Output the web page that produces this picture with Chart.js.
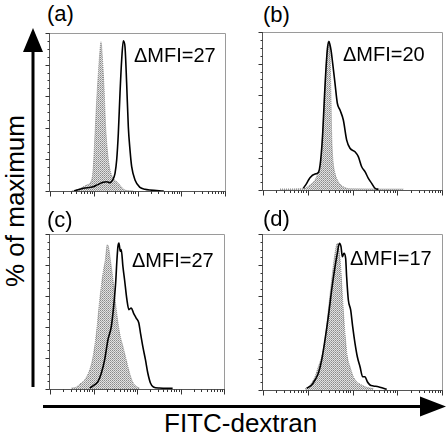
<!DOCTYPE html>
<html>
<head>
<meta charset="utf-8">
<script src="https://cdn.jsdelivr.net/npm/chart.js@4.4.0/dist/chart.umd.min.js"></script>
<style>
body { margin:0; background:#fff; }
#wrap { position:relative; width:448px; height:438px; overflow:hidden; font-family:"Liberation Sans", Arial, sans-serif; }
#wrap canvas { position:absolute; }
.lbl { position:absolute; font-size:20px; line-height:1; color:#000; white-space:nowrap; }
.pan { position:absolute; font-size:22px; line-height:1; color:#000; white-space:nowrap; }
.axl { position:absolute; font-size:26px; line-height:1; color:#000; white-space:nowrap; }
</style>
</head>
<body>
<div id="wrap">
<svg width="448" height="438" style="position:absolute;left:0;top:0">
  <line x1="33" y1="48" x2="33" y2="387" stroke="#000" stroke-width="3"/>
  <polygon points="33,28 23,52 43,52" fill="#000"/>
  <line x1="43" y1="406.5" x2="424" y2="406.5" stroke="#000" stroke-width="3"/>
  <polygon points="446,406.5 420,396.5 420,416.5" fill="#000"/>
</svg>
<canvas id="pa"></canvas>
<canvas id="pb"></canvas>
<canvas id="pc"></canvas>
<canvas id="pd"></canvas>
<div class="pan" style="left:47px;top:3px">(a)</div>
<div class="pan" style="left:263px;top:4px">(b)</div>
<div class="pan" style="left:47px;top:209px">(c)</div>
<div class="pan" style="left:263px;top:208px">(d)</div>
<div class="lbl" style="left:134px;top:45px">&Delta;MFI=27</div>
<div class="lbl" style="left:343px;top:44px">&Delta;MFI=20</div>
<div class="lbl" style="left:132px;top:250px">&Delta;MFI=27</div>
<div class="lbl" style="left:350px;top:248px">&Delta;MFI=17</div>
<div class="axl" style="left:164px;top:410px">FITC-dextran</div>
<div class="axl" style="left:2px;top:287px;transform:rotate(-90deg);transform-origin:0 0">% of maximum</div>
</div>
<script>
// x = fluorescence in decades (log10), y = % of maximum
var a_ctrl_x = [0.5, 0.648, 0.838, 0.952, 0.99, 1.029, 1.067, 1.105, 1.143, 1.166, 1.196, 1.234, 1.272, 1.318, 1.371, 1.448, 1.562, 1.638, 1.714, 1.9];
var a_ctrl_y = [0, 1.1, 3.8, 7.0, 15.4, 36.5, 57.6, 74.5, 89.2, 94.5, 85, 66, 40.7, 23.9, 13.3, 8.0, 4.9, 2.3, 0.6, 0];
var a_dex_x = [0.55, 0.762, 0.99, 1.105, 1.219, 1.295, 1.371, 1.432, 1.486, 1.524, 1.562, 1.6, 1.638, 1.676, 1.714, 1.752, 1.79, 1.829, 1.867, 1.943, 2.057, 2.171, 2.286, 2.6];
var a_dex_y = [0, 1.7, 2.7, 4.2, 5.5, 5.9, 5.3, 7.0, 11.2, 19.6, 36.5, 61.8, 82.9, 95.1, 91.3, 68.2, 40.7, 25.9, 15.4, 7.0, 2.3, 1.1, 0.6, 0];

var b_ctrl_x = [0.38, 0.901, 1.05, 1.162, 1.236, 1.289, 1.334, 1.37, 1.408, 1.445, 1.475, 1.497, 1.52, 1.534, 1.557, 1.609, 1.683, 1.795, 1.944, 3.135];
var b_ctrl_y = [0.6, 0.8, 3.2, 6.3, 11.6, 16.9, 35.9, 57.0, 78.0, 92.8, 94.5, 86.5, 57.0, 35.9, 21.1, 10.6, 5.3, 2.1, 0.8, 0.6];
var b_dex_x = [0.901, 0.976, 1.05, 1.162, 1.236, 1.289, 1.334, 1.37, 1.401, 1.437, 1.475, 1.497, 1.52, 1.557, 1.609, 1.661, 1.721, 1.795, 1.87, 1.944, 2.056, 2.13, 2.205, 2.279, 2.354, 2.429, 2.503, 2.577];
var b_dex_y = [1.1, 4.2, 7.8, 10.1, 11.0, 19.0, 35.9, 57.0, 73.8, 88.6, 93.9, 91.8, 88.6, 80.2, 67.5, 54.9, 50.6, 44.3, 31.6, 26.4, 24.2, 21.1, 14.7, 11.6, 7.4, 4.2, 1.1, 0.4];

var c_ctrl_x = [0.495, 0.61, 0.686, 0.8, 0.914, 0.99, 1.067, 1.143, 1.219, 1.272, 1.318, 1.349, 1.387, 1.448, 1.524, 1.6, 1.676, 1.752, 1.829, 1.905, 1.981, 2.057];
var c_ctrl_y = [0.6, 1.3, 3.2, 6.0, 12.5, 21.0, 36.1, 57.6, 74.8, 83.4, 93.1, 91.0, 83.4, 70.5, 51.2, 36.1, 27.5, 18.9, 10.3, 4.3, 1.7, 0.6];
var c_dex_x = [0.914, 1.029, 1.105, 1.181, 1.257, 1.333, 1.41, 1.463, 1.509, 1.539, 1.562, 1.585, 1.615, 1.638, 1.676, 1.714, 1.768, 1.813, 1.867, 1.92, 1.981, 2.042, 2.08, 2.133, 2.194, 2.248, 2.309, 2.377, 2.514, 2.819];
var c_dex_y = [0.6, 2.8, 4.9, 10.3, 18.9, 31.8, 40.4, 53.3, 68.4, 83.4, 92.0, 94.2, 88.8, 89.9, 79.1, 70.5, 57.6, 51.2, 52.3, 49.0, 45.8, 42.6, 36.1, 27.5, 18.9, 10.3, 3.9, 1.3, 0.6, 0.4];

var d_ctrl_x = [0.939, 1.05, 1.162, 1.236, 1.311, 1.385, 1.46, 1.534, 1.609, 1.661, 1.698, 1.735, 1.78, 1.832, 1.884, 1.944, 2.019, 2.093, 2.205, 2.317, 2.466];
var d_ctrl_y = [0.6, 3.2, 8.5, 14.9, 21.3, 32.1, 51.3, 70.5, 87.6, 94.0, 89.7, 79.0, 57.7, 36.3, 21.3, 14.9, 8.5, 5.3, 3.2, 1.7, 0.9];
var d_dex_x = [0.976, 1.088, 1.162, 1.236, 1.311, 1.385, 1.46, 1.534, 1.609, 1.661, 1.706, 1.743, 1.773, 1.81, 1.847, 1.869, 1.907, 1.959, 2.004, 2.056, 2.108, 2.168, 2.227, 2.279, 2.332, 2.391, 2.466, 2.577, 2.689, 2.764];
var d_dex_y = [1.1, 3.2, 6.4, 10.7, 19.2, 32.1, 47.0, 64.1, 79.0, 87.6, 94.0, 91.9, 85.4, 87.6, 84.4, 72.6, 57.7, 51.3, 40.6, 29.9, 21.3, 14.9, 8.5, 8.5, 5.3, 3.2, 2.6, 2.1, 1.1, 0.4];

var decades = [0, 1, 2, 3, 4];
var y_ticks = [0, 5, 10, 15, 20, 25, 30, 35, 40, 45, 50, 55, 60, 65, 70, 75, 80, 85, 90, 95, 100];


function pts(xs, ys) {
    var out = [];
    for (var i = 0; i < xs.length; i++) {
        out.push({x: xs[i], y: ys[i]});
    }
    return out;
}

// stippled grey fill like the scanned histogram
function stipple() {
    var c = document.createElement('canvas');
    c.width = 2; c.height = 2;
    var g = c.getContext('2d');
    g.fillStyle = '#e2e2e2';
    g.fillRect(0, 0, 2, 2);
    g.fillStyle = '#8a8a8a';
    g.fillRect(0, 0, 1, 1);
    g.fillStyle = '#a8a8a8';
    g.fillRect(1, 1, 1, 1);
    return g.createPattern(c, 'repeat');
}

// frame + tick marks drawn from the chart's own scales
var framePlugin = {
    id: 'frame',
    afterDraw: function(chart) {
        var ctx = chart.ctx;
        var xs = chart.scales.x, ys = chart.scales.y;
        var L = xs.left, R = xs.right, T = ys.top, B = ys.bottom;
        ctx.save();
        ctx.lineWidth = 1;
        ctx.strokeStyle = '#9a9a9a';
        ctx.beginPath();
        ctx.moveTo(L, T + 0.5); ctx.lineTo(R + 0.5, T + 0.5); ctx.lineTo(R + 0.5, B);
        ctx.stroke();
        ctx.strokeStyle = '#555';
        ctx.beginPath();
        ctx.moveTo(L - 0.5, T); ctx.lineTo(L - 0.5, B + 0.5); ctx.lineTo(R + 1, B + 0.5);
        ctx.stroke();

        // log ticks on x
        ctx.strokeStyle = '#333';
        ctx.beginPath();
        for (var d = 0; d < decades.length; d++) {
            for (var k = 1; k <= 9; k++) {
                if (d == decades.length - 1 && k > 1) break;
                var v = decades[d] + Math.log10(k);
                var px = Math.round(xs.getPixelForValue(v)) + 0.5;
                var len = (k == 1) ? 5 : 2.5;
                ctx.moveTo(px, B + 0.5);
                ctx.lineTo(px, B + 0.5 + len);
            }
        }
        ctx.stroke();

        // ticks on y
        ctx.beginPath();
        for (var i = 0; i < y_ticks.length; i++) {
            var py = Math.round(ys.getPixelForValue(y_ticks[i])) + 0.5;
            var ylen = (y_ticks[i] % 20 == 0) ? 4 : 2;
            ctx.moveTo(L - 0.5, py);
            ctx.lineTo(L - 0.5 - ylen, py);
        }
        ctx.stroke();
        ctx.restore();
    }
};

function makePanel(id, box, ctrlX, ctrlY, dexX, dexY) {
    var cv = document.getElementById(id);
    var padL = 10, padT = 4, padR = 6, padB = 10;
    cv.width = box[2] - box[0] + padL + padR;
    cv.height = box[3] - box[1] + padT + padB;
    cv.style.left = (box[0] - padL) + 'px';
    cv.style.top = (box[1] - padT) + 'px';

    new Chart(cv, {
        type: 'line',
        data: {
            datasets: [
                {
                    data: pts(dexX, dexY),
                    borderColor: '#000',
                    borderWidth: 1.6,
                    pointRadius: 0,
                    fill: false,
                    cubicInterpolationMode: 'monotone',
                    order: 0
                },
                {
                    data: pts(ctrlX, ctrlY),
                    borderColor: '#8c8c8c',
                    borderWidth: 1,
                    borderDash: [1, 1],
                    backgroundColor: stipple(),
                    pointRadius: 0,
                    fill: 'origin',
                    cubicInterpolationMode: 'monotone',
                    order: 1
                }
            ]
        },
        options: {
            responsive: false,
            animation: false,
            devicePixelRatio: 1,
            layout: {padding: {left: padL, top: padT, right: padR, bottom: padB}},
            plugins: {legend: {display: false}, tooltip: {enabled: false}},
            scales: {
                x: {type: 'linear', min: 0, max: 4, display: false},
                y: {type: 'linear', min: 0, max: 100, display: false}
            }
        },
        plugins: [framePlugin]
    });
}

makePanel('pa', [50, 33, 225, 191], a_ctrl_x, a_ctrl_y, a_dex_x, a_dex_y);
makePanel('pb', [263, 32, 442, 190], b_ctrl_x, b_ctrl_y, b_dex_x, b_dex_y);
makePanel('pc', [50, 234, 224, 389], c_ctrl_x, c_ctrl_y, c_dex_x, c_dex_y);
makePanel('pd', [263, 234, 442, 390], d_ctrl_x, d_ctrl_y, d_dex_x, d_dex_y);
</script>
</body>
</html>
